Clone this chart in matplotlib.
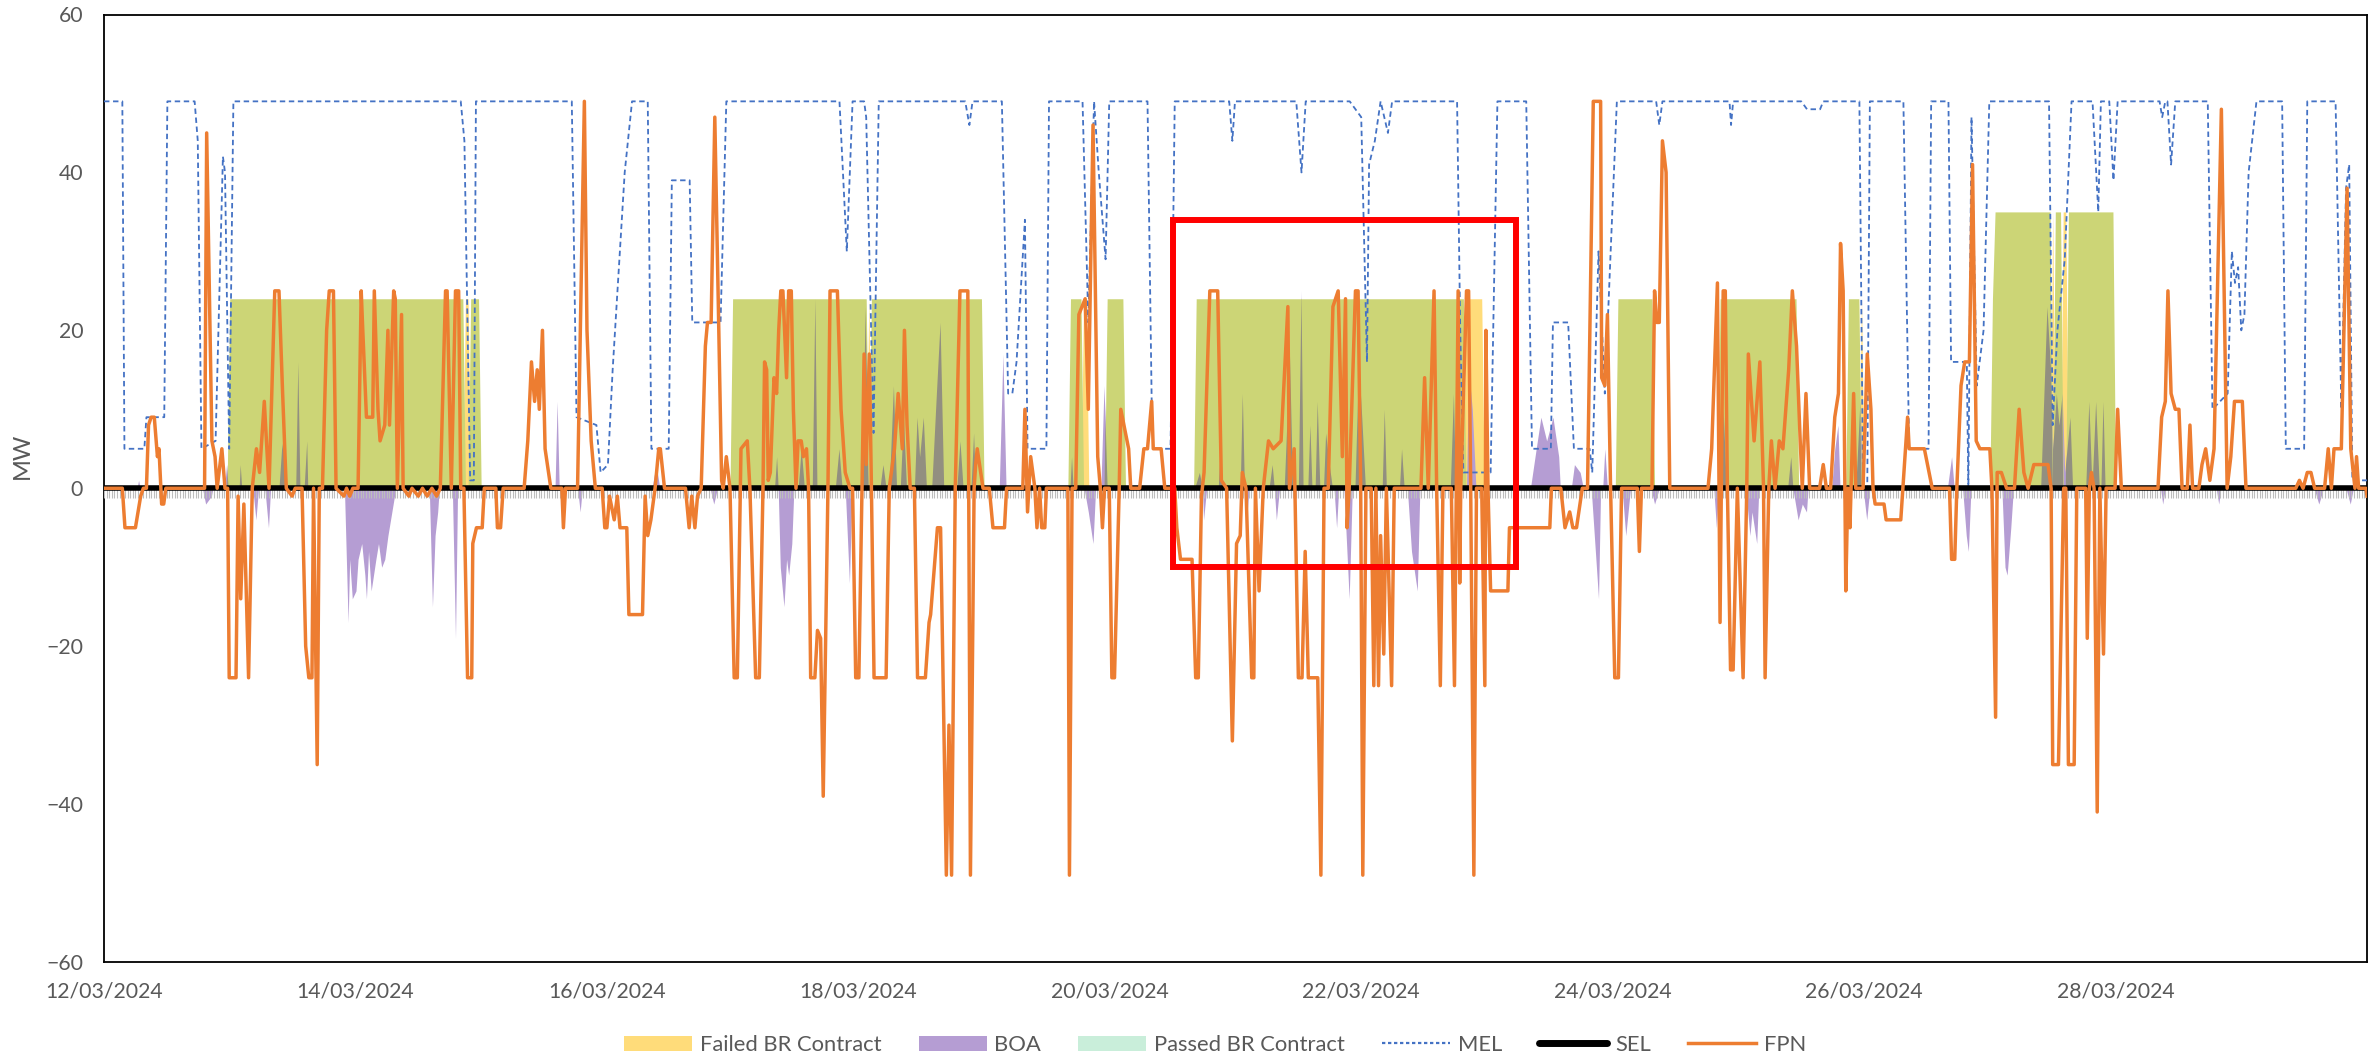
import numpy as np
import pandas as pd
import matplotlib
matplotlib.use("Agg")
import matplotlib.pyplot as plt
import matplotlib.dates as mdates
from matplotlib.lines import Line2D
from matplotlib.patches import Patch, Rectangle

START = pd.Timestamp("2024-03-12 00:00")
END_HOURS = 432  # 30/03/2024 00:00

# Final Physical Notification, (hours from 12/03 00:00, MW)
fpn_points = [
    (0, 0), (3.5, 0), (4, -5), (6, -5), (7, -1), (7.5, 0), (8.1, 0), (8.5, 8), (9, 9), (9.6, 9), (10.2, 4), (10.5, 5),
    (11, -2), (11.4, -2), (11.8, 0), (19.2, 0), (19.6, 45), (20.6, 6), (21.2, 4), (21.6, 0), (22.5, 5), (23.1, 0), (23.6, 0),
    (23.9, -24), (25.2, -24), (25.6, -1), (26.1, -14), (26.7, -2), (27.6, -24), (28.3, 0),
    (29.1, 5), (29.7, 2), (30.4, 9), (30.6, 11), (31.5, 0), (32.6, 25), (33.4, 25), (34.1, 12), (34.8, 0),
    (35.9, -1), (36.5, 0), (37.8, 0), (38.5, -20), (39.1, -24), (39.7, -24), (40.0, 0), (40.7, -35), (41.1, 0),
    (41.7, 0), (42.5, 20), (43.0, 25), (43.8, 25), (44.3, 0), (45.8, -1), (46.3, 0), (46.9, -1), (47.5, 0),
    (48.5, 0), (49.1, 25), (49.4, 20), (50.1, 9), (51.3, 9), (51.6, 25), (52.3, 10), (52.7, 6), (53.6, 8), (54.2, 20),
    (54.5, 8), (55.3, 25), (55.6, 24), (56.0, 0), (56.8, 22), (57.1, 0),
    (58.2, -1), (58.8, 0), (60.0, -1), (60.8, 0), (61.7, -1), (62.6, 0), (63.5, -1), (64.2, 0),
    (65.2, 25), (65.5, 25), (66.3, 0), (67.1, 25), (67.7, 25), (68.1, 0), (68.7, 0), (69.4, -24), (70.2, -24), (70.4, -7),
    (71.1, -5), (72.2, -5), (72.6, 0),
    (74.8, 0), (75.1, -5), (75.7, -5), (76.2, 0), (80.2, 0), (80.9, 6), (81.6, 16), (82.2, 11), (82.7, 15), (83.1, 10),
    (83.7, 20), (84.2, 5), (85.3, 0),
    (87.4, 0), (87.7, -5), (88.1, 0), (90.4, 0), (91.7, 49), (92.2, 20), (93.0, 6), (93.8, 0),
    (95.1, 0), (95.6, -5), (96.0, -5), (96.5, -1), (97.4, -4), (98.0, -1), (98.5, -5), (99.8, -5), (100.2, -16), (102.8, -16),
    (103.3, -1), (103.8, -6), (104.4, -4), (105.2, 0), (105.9, 5), (106.2, 5), (107.0, 0),
    (111.0, 0), (111.7, -5), (112.2, -1), (112.8, -5), (113.3, -1), (114.0, 0), (114.8, 18), (115.2, 21), (115.9, 21),
    (116.6, 47), (117.9, 1), (118.2, 0), (118.8, 4), (119.5, 0),
    (120.3, -24), (120.9, -24), (121.6, 5), (122.8, 6), (123.3, 0), (124.4, -24), (125.1, -24), (125.8, 0), (126.1, 16),
    (126.5, 15), (126.8, 1), (127.2, 2), (127.9, 14), (128.4, 12), (128.8, 20), (129.2, 25), (129.6, 25), (130.3, 14),
    (130.7, 25), (131.2, 25), (131.6, 10), (132.1, 0), (132.5, 6), (133.1, 6), (133.5, 4), (134.1, 5), (134.5, 0),
    (134.9, -24), (135.7, -24), (136.2, -18), (136.8, -19), (137.3, -39), (138.2, 0), (138.6, 25), (140.0, 25), (140.7, 10),
    (141.5, 2), (142.4, 0), (142.9, 0), (143.5, -24), (144.1, -24), (144.7, 0), (145.1, 17), (145.5, 3), (146.1, 17),
    (146.5, 0), (147.0, -24), (149.3, -24), (149.9, 0),
    (150.9, 5), (151.6, 12), (152.4, 5), (152.8, 20), (153.3, 8), (153.9, 0), (154.7, 0), (155.3, -24), (156.8, -24),
    (157.5, -17), (157.8, -16), (159.1, -5), (159.7, -5), (160.8, -49), (161.3, -30), (161.8, -49), (162.5, 0), (163.4, 25),
    (164.9, 25), (165.4, -49), (166.1, 0), (166.4, 3), (166.7, 5), (167.8, 0),
    (169.0, 0), (169.7, -5), (171.9, -5), (172.3, 0), (175.4, 0), (175.8, 10), (176.3, -3), (176.9, 4), (177.7, 0),
    (178.1, -5), (178.6, 0), (179.0, -5), (179.6, -5), (179.9, 0),
    (184.0, 0), (184.3, -49), (184.8, 0), (185.5, 0), (186.1, 22), (187.3, 24), (187.9, 10), (188.8, 46), (189.7, 4),
    (190.2, 0), (190.6, -5), (191.0, 0), (191.9, 0), (192.4, -24), (192.9, -24), (193.8, 0), (194.1, 10), (195.6, 5), (196.0, 0),
    (197.7, 0), (198.5, 5), (199.2, 5), (200.0, 11), (200.3, 5), (201.8, 5), (202.5, 0), (204.4, 0), (204.8, -5), (205.5, -9),
    (207.7, -9), (208.4, -24), (208.9, -24), (209.5, -1), (210.0, 2), (211.1, 25), (212.6, 25), (213.3, 1), (214.3, 0),
    (215.4, -32), (216.2, -7), (216.9, -6), (217.3, 2), (218.0, 0), (219.1, -24), (219.5, -24), (219.8, 0), (220.5, -13),
    (221.3, 0), (222.3, 6), (223.2, 5), (224.7, 6), (226.0, 23), (226.3, 0), (227.2, 5),
    (228.0, -24), (228.7, -24), (229.3, -8), (229.9, -24), (231.7, -24), (232.3, -49), (232.9, 0), (233.7, 0), (234.6, 23),
    (235.6, 25), (236.4, 4), (237.0, 24), (237.3, -5), (237.7, 0), (238.9, 25), (239.4, 25), (239.9, 0), (240.3, -49), (240.9, 0),
    (241.9, 0), (242.4, -25), (242.8, 0), (243.3, -25), (243.7, -6), (244.3, -21), (244.8, 0), (245.8, -25), (246.3, 0),
    (251.4, 0), (252.1, 14), (252.8, 0), (253.9, 25), (254.4, 0), (255.1, -25), (255.6, 0),
    (257.2, 0), (257.8, -25), (258.5, 25), (258.8, -12), (259.0, 0), (260.1, 25), (260.5, 25), (260.9, 0), (261.5, -49),
    (262.0, 0), (263.0, 0), (263.6, -25), (263.8, 20), (264.2, 0), (264.7, -13), (268.0, -13), (268.3, -5), (276.0, -5), (276.3, 0),
    (278.1, 0), (278.9, -5), (279.8, -3), (280.4, -5), (281.1, -5), (282.2, 0), (283.2, 0), (284.3, 49), (285.7, 49),
    (285.9, 14), (286.5, 13), (287.0, 22), (287.6, 0), (288.4, -24), (289.1, -24), (289.7, 0),
    (292.7, 0), (293.1, -8), (293.5, 0), (295.5, 0), (296.0, 25), (296.4, 21), (296.9, 21), (297.5, 44), (298.2, 40), (298.9, 0),
    (306.2, 0), (306.9, 5), (308.0, 26), (308.5, -17), (309.1, 25), (309.5, 25), (309.9, 0), (310.5, -23), (311.0, -23),
    (311.8, 0), (312.9, -24), (313.6, 0), (313.9, 17), (315.0, 6), (316.1, 16), (316.8, 0), (317.1, -24), (317.8, 0),
    (318.3, 6), (319.0, 0), (319.8, 6), (320.5, 5), (321.6, 15), (322.3, 25), (323.1, 18), (323.8, 6), (324.2, 0), (324.9, 12),
    (325.6, 0), (327.5, 0), (328.2, 3), (328.8, 0), (329.6, 0), (330.4, 9), (331.1, 12), (331.5, 31), (332.0, 25),
    (332.5, -13), (332.9, 0), (333.3, -5), (334.0, 12), (334.4, 0),
    (335.8, 0), (336.6, 17), (337.3, 10), (337.7, 0), (338.1, -2), (339.8, -2), (340.2, -4), (343.0, -4), (343.4, 0),
    (344.3, 9), (344.6, 5), (347.5, 5), (349.0, 0),
    (352.3, 0), (352.7, -9), (353.3, -9), (353.7, 0), (354.5, 13), (355.2, 16), (356.1, 16), (356.7, 41), (357.4, 6),
    (358.1, 5), (360.0, 5), (360.4, 0), (361.1, -29), (361.4, 2), (362.2, 2), (363.2, 0),
    (364.7, 0), (365.6, 10), (366.5, 2), (367.3, 0), (368.4, 3), (371.1, 3), (371.7, 0), (372.0, -35), (373.1, -35),
    (374.1, 0), (374.5, 0), (375.0, -35), (376.1, -35), (376.6, 0), (378.3, 0), (378.6, -19), (379.0, 0), (379.4, 2),
    (379.9, 0), (380.5, -41), (381.0, 0), (381.7, -21), (382.2, 0),
    (383.9, 0), (384.4, 10), (385.1, 0), (392.1, 0), (392.8, 9), (393.5, 11), (394.0, 25), (394.6, 12), (395.4, 10),
    (396.1, 10), (396.7, 0), (397.7, 0), (398.2, 8), (398.7, 0), (399.9, 0), (400.5, 3), (401.2, 5), (402.0, 1), (402.8, 5),
    (404.2, 48), (405.3, 0),
    (406.0, 4), (406.7, 11), (408.2, 11), (408.9, 0), (418.4, 0), (419.1, 1), (419.8, 0), (420.6, 2), (421.3, 2), (422.0, 0),
    (423.9, 0), (424.6, 5), (425.2, 0), (425.7, 5), (427.1, 5), (428.2, 38), (428.9, 5), (429.7, 0), (430.0, 4), (430.4, 0),
    (431.8, 0), (432.0, -1),
]

# Maximum Export Limit
mel_points = [
    (0, 49), (3.5, 49), (3.9, 5), (7.7, 5), (8.1, 9), (11.5, 9), (12.1, 49), (17.3, 49), (17.9, 44), (18.6, 5), (21.3, 6),
    (22.7, 42), (23.1, 40), (23.9, 5), (24.7, 49),
    (68.1, 49), (68.8, 44), (69.9, 1), (70.6, 1), (71.0, 49), (89.3, 49), (90.2, 9), (94.0, 8), (94.8, 2), (96.2, 3),
    (97.1, 15), (99.4, 40), (100.8, 49),
    (103.8, 49), (104.5, 5), (107.8, 5), (108.4, 39), (111.8, 39), (112.3, 21), (117.7, 21), (118.8, 49),
    (140.4, 49), (141.8, 30), (142.9, 49), (145.1, 49), (145.5, 47), (146.9, 7), (147.9, 49), (164.4, 49), (165.2, 46), (165.8, 49),
    (171.4, 49), (172.6, 12), (173.4, 12), (174.2, 16), (175.8, 34), (176.3, 5), (179.9, 5), (180.4, 49), (186.8, 49),
    (187.9, 21), (189.0, 49), (189.9, 40), (191.2, 29), (191.9, 49),
    (199.2, 49), (200.0, 11), (200.3, 5), (203.6, 5), (204.4, 49), (214.8, 49), (215.4, 44), (215.9, 49), (227.6, 49),
    (228.6, 40), (229.4, 49),
    (237.8, 49), (240.0, 47), (241.1, 16), (241.5, 41), (242.6, 44), (243.7, 49), (245.1, 45), (245.9, 49), (258.3, 49),
    (258.9, 20), (259.5, 2), (264.7, 2), (266.0, 49),
    (271.5, 49), (272.6, 5), (276.2, 5), (276.6, 21), (279.5, 21), (280.6, 5), (283.6, 5), (284.1, 2), (285.3, 30),
    (286.5, 12), (288.8, 49),
    (296.3, 49), (296.9, 46), (297.5, 49), (310.3, 49), (310.6, 46), (311.0, 49), (324.0, 49), (325.1, 48), (327.6, 48), (328.2, 49),
    (335.1, 49), (335.8, 0), (336.6, 0), (337.1, 49), (343.5, 49), (344.6, 5), (348.3, 5), (348.8, 49), (352.1, 49),
    (352.6, 16), (355.6, 16), (355.9, 0), (356.5, 47), (357.5, 13), (358.8, 20), (359.9, 49),
    (371.3, 49), (372.0, 8), (372.9, 20), (374.3, 29), (375.6, 49), (379.6, 49), (380.7, 35), (381.2, 49), (382.8, 49),
    (383.6, 39), (384.4, 49),
    (392.4, 49), (392.9, 47), (393.5, 49), (393.9, 49), (394.6, 41), (395.4, 49), (401.6, 49), (402.5, 10), (405.4, 12),
    (406.2, 30), (406.8, 26), (407.4, 28), (408.0, 20), (408.6, 22), (409.4, 40), (410.9, 49),
    (415.8, 49), (416.5, 5), (420.0, 5), (420.6, 49), (426.0, 49), (427.1, 10), (428.0, 38), (428.6, 41), (429.2, 1), (432.0, 1),
]

# Bid-Offer Acceptances
boa_points = [
    (0, 0), (6.3, 0), (6.6, 1), (6.9, 0), (18.8, 0), (19.4, -2), (20.5, -1), (20.8, 0), (23.0, 0), (23.4, 3), (23.7, 0),
    (25.8, 0), (26.0, 3), (26.3, 0), (28.4, 0), (29.0, -4), (29.5, 0), (30.7, 0), (31.4, -5), (31.8, 0), (33.4, 0),
    (33.9, 5), (34.4, 7), (34.7, 0), (36.6, 0), (37.0, 16), (37.4, 0), (38.2, 0), (38.7, 6), (38.9, 0),
    (45.9, 0), (46.6, -17), (46.9, -9), (47.4, -14), (48.1, -13), (48.5, -9), (49.2, -7), (49.8, -11), (50.1, -14),
    (50.5, -8), (51.0, -13), (51.9, -9), (52.4, -7), (53.0, -10), (53.6, -9), (54.2, -6), (55.7, 0),
    (62.1, 0), (62.7, -15), (63.2, -6), (63.7, -3), (64.0, 0), (66.5, 0), (67.1, -19), (67.5, 0),
    (86.1, 0), (86.5, 11), (86.9, 0), (90.4, 0), (90.9, -3), (91.3, 0), (104.6, 0), (105.4, 3), (106.1, 0),
    (115.7, 0), (116.4, -2), (117.1, 0),
    (128.0, 0), (128.4, 4), (128.7, 0), (129.1, -10), (129.8, -15), (130.3, -9), (130.7, -11), (131.3, -7), (131.7, 0),
    (132.5, 0), (133.1, 5), (133.7, 0), (135.2, 0), (135.7, 24), (136.1, 0), (139.6, 0), (140.3, 5), (140.9, 0),
    (141.5, 0), (142.3, -12), (142.8, 0),
    (144.7, 0), (145.3, 23), (145.9, 0), (148.1, 0), (148.7, 3), (149.3, 0), (149.9, 0), (150.7, 13), (151.3, 0),
    (152.0, 0), (152.6, 9), (153.2, 0), (154.7, 0), (155.2, 9), (155.7, 4), (156.4, 9), (157.0, 0), (158.0, 0),
    (158.9, 12), (159.6, 21), (160.3, 0), (162.8, 0), (163.4, 6), (164.0, 0), (165.5, 0), (166.0, 7), (166.4, 0),
    (170.9, 0), (171.6, 17), (172.2, 0), (184.4, 0), (184.7, 4), (185.0, 0), (187.1, 0), (187.9, -3), (188.8, -7),
    (189.3, 0), (190.3, 0), (190.9, 13), (191.5, 0),
    (208.2, 0), (209.1, 2), (209.7, 0), (209.9, -4), (210.5, 0), (212.7, 0), (213.0, 4), (213.4, 0), (216.9, 0),
    (217.3, 12), (217.7, 0), (218.0, -5), (218.6, 0), (222.4, 0), (223.0, 3), (223.4, 0), (223.8, -4), (224.4, 0),
    (225.3, 0), (225.9, 10), (226.3, 17), (226.9, 0), (228.0, 0), (228.5, 25), (228.9, 0), (229.8, 0), (230.2, 8),
    (230.6, 0), (231.2, 0), (231.6, 11), (232.1, 0), (232.8, 0), (233.2, 7), (233.9, 3), (234.5, 0), (234.8, 0),
    (235.3, -5), (235.7, 0), (236.7, 0), (237.7, -14), (238.3, 0),
    (238.8, 0), (239.5, 16), (240.1, 9), (240.8, 0), (244.0, 0), (244.4, 10), (244.8, 0), (247.3, 0), (247.7, 5),
    (248.2, 0), (248.8, 0), (249.6, -8), (250.7, -13), (251.2, 0), (257.0, 0), (257.6, 12), (258.0, 0), (260.1, 0),
    (260.5, 15), (261.2, 10), (261.9, 0),
    (272.3, 0), (273.4, 5), (274.3, 9), (275.4, 6), (276.6, 9), (277.7, 4), (278.0, 0), (280.1, 0), (280.7, 3),
    (281.8, 2), (282.4, 0), (283.9, 0), (284.5, -6), (285.3, -14), (285.7, 0), (286.1, 0), (286.5, 5), (287.0, 0),
    (289.8, 0), (290.5, -6), (291.4, 0), (295.3, 0), (296.0, -2), (296.9, 0),
    (307.3, 0), (307.8, -5), (308.2, 0), (308.5, 0), (309.1, 10), (309.7, 0), (313.4, 0), (314.2, -6), (314.6, -3),
    (315.5, -7), (315.9, 0), (321.4, 0), (322.0, 4), (322.4, 0), (323.4, -4), (324.2, -2), (325.0, -3), (325.3, 0),
    (329.8, 0), (330.4, 5), (331.0, 8), (331.4, 0), (334.4, 0), (335.2, 11), (335.8, 0), (336.5, -4), (337.1, 0),
    (351.9, 0), (352.7, 4), (353.2, 0), (354.8, 0), (355.5, -6), (355.9, -8), (356.4, 0), (362.3, 0), (362.9, -10),
    (363.3, -11), (364.0, -5), (364.5, 0),
    (369.7, 0), (370.9, 23), (371.6, 15), (372.0, 5), (372.7, 12), (373.2, 8), (373.8, 12), (374.3, 2), (375.3, 9),
    (375.8, 0), (378.3, 0), (378.9, 11), (379.5, 0), (380.2, 11), (380.9, 0), (381.2, 0), (381.6, 11), (382.0, 0),
    (392.6, 0), (393.0, -2), (393.5, 0), (403.2, 0), (403.7, -2), (404.1, 0), (421.9, 0), (422.8, -2), (423.7, 0),
    (428.0, 0), (428.8, -2), (429.4, 0), (432.0, 0),
]

# Stable Export Limit sits at zero for the whole period
sel_points = [(0, 0), (432, 0)]

# Balancing reserve contract windows: (start hour, end hour, MW)
passed_blocks = [
    (24, 69, 24), (70, 72, 24), (120, 146, 24), (146.5, 168, 24), (184.5, 187, 24), (191.5, 195, 24),
    (208.5, 260, 24), (289, 296, 24), (308.5, 323.5, 24), (333, 335.5, 24), (360.5, 361, 24),
    (361, 372, 35), (372.5, 374, 35), (375, 384, 35),
]
failed_blocks = [
    (69, 70, 24), (146, 146.5, 24), (187, 188, 24), (260, 263.5, 24), (335.5, 336, 24), (372, 372.5, 35), (374, 375, 35),
]

# highlighted period, hours and MW
box_hours = (204.0, 269.6)
box_mw = (-10, 34)

YELLOW = "#FFDC7A"
PURPLE = "#B59DD3"
OLIVE = "#CCD576"
MINT = "#C9EEDA"
GREY_OVER = "#928F80"
BLUE = "#4472C4"
ORANGE = "#ED7D31"
TEXT = "#595959"


def to_time(hours):
    return START + pd.to_timedelta(np.asarray(hours, dtype=float), unit="h")


def split(points):
    arr = np.array(points, dtype=float)
    return to_time(arr[:, 0]), arr[:, 1]


def block_series(blocks, grid):
    vals = np.zeros_like(grid)
    for s, e, lvl in blocks:
        vals[(grid >= s) & (grid < e)] = lvl
    return vals


plt.rcParams["font.family"] = ["Lato", "DejaVu Sans"]

grid = np.arange(0, END_HOURS + 0.5, 0.5)
t_grid = to_time(grid)
passed = block_series(passed_blocks, grid)
failed = block_series(failed_blocks, grid)

t_fpn, fpn = split(fpn_points)
t_mel, mel = split(mel_points)
t_boa, boa = split(boa_points)
t_sel, sel = split(sel_points)

fig = plt.figure(figsize=(23.79, 10.59), dpi=100)
ax = fig.add_axes([104 / 2379, 1 - 962 / 1059, (2367 - 104) / 2379, (962 - 14.5) / 1059])

ax.fill_between(t_grid, 0, failed, color=YELLOW, lw=0, zorder=1)
ax.fill_between(t_boa, 0, boa, color=PURPLE, lw=0, zorder=2)
passed_area = ax.fill_between(t_grid, 0, passed, color=OLIVE, lw=0, zorder=3)
# BOA showing through the passed contract area
boa_over = ax.fill_between(t_boa, 0, boa, color=GREY_OVER, lw=0, zorder=4)
boa_over.set_clip_path(passed_area.get_paths()[0], ax.transData)

# half-hourly tick marks of the horizontal axis
ax.vlines(t_grid, -1.2, 0, colors="#BDBDBD", lw=0.8, zorder=5)

ax.plot(t_mel, mel, color=BLUE, lw=1.3, ls=(0, (3, 2)), zorder=6)
ax.plot(t_sel, sel, color="black", lw=4, zorder=7)
ax.plot(t_fpn, fpn, color=ORANGE, lw=2.5, zorder=8, solid_joinstyle="round")

x0 = mdates.date2num(to_time([box_hours[0]])[0])
x1 = mdates.date2num(to_time([box_hours[1]])[0])
ax.add_patch(Rectangle((x0, box_mw[0]), x1 - x0, box_mw[1] - box_mw[0],
                       fill=False, edgecolor="#FF0000", lw=4.3, zorder=9))

ax.set_xlim(START, START + pd.Timedelta(hours=END_HOURS))
ax.set_ylim(-60, 60)
ax.set_yticks(range(-60, 61, 20))
ax.set_xticks(pd.date_range(START, periods=9, freq="2D"))
ax.xaxis.set_major_formatter(mdates.DateFormatter("%d/%m/%Y"))
ax.tick_params(length=0, labelsize=15.3, labelcolor=TEXT)
ax.tick_params(axis="x", pad=14)
ax.tick_params(axis="y", pad=15)
for sp in ax.spines.values():
    sp.set_color("black")
    sp.set_linewidth(1.3)

fig.text(22.5 / 2379, 1 - 456 / 1059, "MW", rotation=90, ha="center", va="center",
         fontsize=17, color=TEXT)

handles = [
    Patch(facecolor=YELLOW, edgecolor="none", label="Failed BR Contract"),
    Patch(facecolor=PURPLE, edgecolor="none", label="BOA"),
    Patch(facecolor=MINT, edgecolor="none", label="Passed BR Contract"),
    Line2D([], [], color=BLUE, lw=1.6, ls=(0, (1.5, 1.2)), label="MEL"),
    Line2D([], [], color="black", lw=5, solid_capstyle="round", label="SEL"),
    Line2D([], [], color=ORANGE, lw=2.5, label="FPN"),
]
leg = fig.legend(handles=handles, loc="center", bbox_to_anchor=(1215 / 2379, 1 - 1045 / 1059),
                 ncol=6, frameon=False, fontsize=15.8, handlelength=3.1, handletextpad=0.35,
                 columnspacing=1.7)
for txt in leg.get_texts():
    txt.set_color(TEXT)

fig.savefig("out.png", dpi=100)
